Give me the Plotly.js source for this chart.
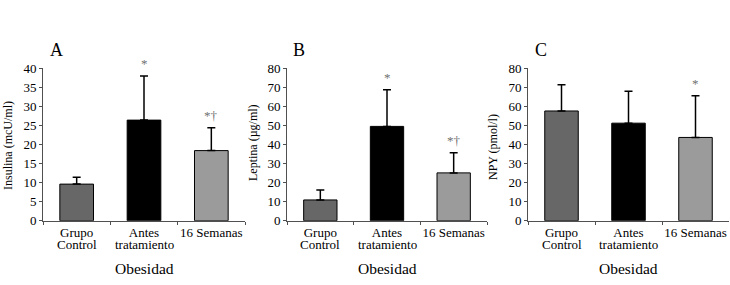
<!DOCTYPE html>
<html>
<head>
<meta charset="utf-8">
<script src="https://cdn.plot.ly/plotly-3.0.1.min.js"></script>
<style>html,body{margin:0;padding:0;background:#fff;}#chart{width:730px;height:285px;}</style>
</head>
<body>
<div id="chart"></div>
<script>
// ---- Data ----
const categories = ["Grupo Control", "Antes tratamiento", "16 Semanas"];
const tickLine1 = ["Grupo", "Antes", "16 Semanas"];
const tickLine2 = ["Control", "tratamiento", ""];

const insulinaMean = [9.6, 26.4, 18.4];
const insulinaErr  = [1.8, 11.6, 6.0];
const insulinaSig  = ["", "*", "*†"];

const leptinaMean = [10.9, 49.5, 25.1];
const leptinaErr  = [5.2, 19.3, 10.6];
const leptinaSig  = ["", "*", "*†"];

const npyMean = [57.6, 51.2, 43.7];
const npyErr  = [13.8, 16.8, 21.9];
const npySig  = ["", "", "*"];

const panelLetters = ["A", "B", "C"];
const yTitles = ["Insulina (mcU/ml)", "Leptina (µg/ml)", "NPY (pmol/l)"];
const xTitle = "Obesidad";
const yTickValsA = [0, 5, 10, 15, 20, 25, 30, 35, 40];
const yTickValsBC = [0, 10, 20, 30, 40, 50, 60, 70, 80];

// ---- Styling ----
const FONT = 'Liberation Serif, Times New Roman, serif';
const barColors = ["#676767", "#000000", "#9b9b9b"];
const axisColor = "#505050";

const panels = [
  {mean: insulinaMean, err: insulinaErr, sig: insulinaSig, ymax: 40, ticks: yTickValsA,
   dom: [43/730, 245/730], yTitleX: 8/730, yTitleY: (285-146)/285},
  {mean: leptinaMean, err: leptinaErr, sig: leptinaSig, ymax: 80, ticks: yTickValsBC,
   dom: [287/730, 487/730], yTitleX: 253/730, yTitleY: (285-143)/285},
  {mean: npyMean, err: npyErr, sig: npySig, ymax: 80, ticks: yTickValsBC,
   dom: [528/730, 729/730], yTitleX: 493/730, yTitleY: (285-147)/285}
];

const letterX = [56, 299, 541];

const data = [];
const layout = {
  width: 730, height: 285,
  margin: {l: 0, r: 0, t: 0, b: 0},
  paper_bgcolor: "#fff", plot_bgcolor: "#fff",
  showlegend: false,
  bargap: 0.5,
  font: {family: FONT, size: 13, color: "#000"},
  annotations: []
};

const yDom = [(285-220.7)/285, (285-68.3)/285];

panels.forEach((p, i) => {
  const n = i === 0 ? "" : String(i + 1);
  data.push({
    type: "bar",
    x: categories,
    y: p.mean,
    xaxis: "x" + n, yaxis: "y" + n,
    marker: {color: barColors, line: {color: "#000", width: 1}},
    error_y: {type: "data", array: p.err, symmetric: false, arrayminus: p.err.map(() => 0),
              color: "#000", thickness: 1.5, width: 4},
    hoverinfo: "skip"
  });
  layout["xaxis" + n] = {
    domain: p.dom, anchor: "y" + n,
    type: "category", range: [-0.5, 2.5],
    tickmode: "array", tickvals: categories, ticktext: tickLine1,
    tickson: "boundaries", tickangle: 0, automargin: false,
    ticks: "outside", ticklen: 3, tickcolor: axisColor, tickwidth: 1,
    showline: true, linecolor: axisColor, linewidth: 1,
    showgrid: false, zeroline: false, fixedrange: true,
    tickfont: {family: FONT, size: 13, color: "#000"}
  };
  layout["yaxis" + n] = {
    domain: yDom, anchor: "x" + n,
    range: [0, p.ymax], automargin: false,
    tickmode: "array", tickvals: p.ticks,
    ticks: "outside", ticklen: 3, tickcolor: axisColor, tickwidth: 1,
    showline: true, linecolor: axisColor, linewidth: 1,
    showgrid: false, zeroline: false, fixedrange: true,
    tickfont: {family: FONT, size: 13, color: "#000"}
  };
  categories.forEach((c, k) => {
    if (tickLine2[k]) {
      layout.annotations.push({
        text: tickLine2[k], x: c, xref: "x" + n, y: (285-244)/285, yref: "paper",
        xanchor: "center", yanchor: "middle", showarrow: false,
        font: {family: FONT, size: 13, color: "#000"}
      });
    }
    if (p.sig[k]) {
      layout.annotations.push({
        text: p.sig[k], x: c, xref: "x" + n, y: p.mean[k] + p.err[k], yref: "y" + n,
        xanchor: "center", yanchor: "bottom", yshift: 2.5, showarrow: false,
        font: {family: FONT, size: 13, color: "#707070"}
      });
    }
  });
  layout.annotations.push({
    text: xTitle, x: (p.dom[0] + p.dom[1]) / 2, xref: "paper", y: (285-268.3)/285, yref: "paper",
    xanchor: "center", yanchor: "middle", showarrow: false,
    font: {family: FONT, size: 15.5, color: "#000"}
  });
  layout.annotations.push({
    text: yTitles[i], x: p.yTitleX, xref: "paper", y: p.yTitleY, yref: "paper",
    xanchor: "center", yanchor: "middle", textangle: -90, showarrow: false,
    font: {family: FONT, size: 12, color: "#000"}
  });
  layout.annotations.push({
    text: panelLetters[i], x: letterX[i] / 730, xref: "paper", y: (285-50)/285, yref: "paper",
    xanchor: "center", yanchor: "middle", showarrow: false,
    font: {family: FONT, size: 18, color: "#000"}
  });
});

Plotly.newPlot("chart", data, layout, {staticPlot: true, displayModeBar: false});
</script>
</body>
</html>
